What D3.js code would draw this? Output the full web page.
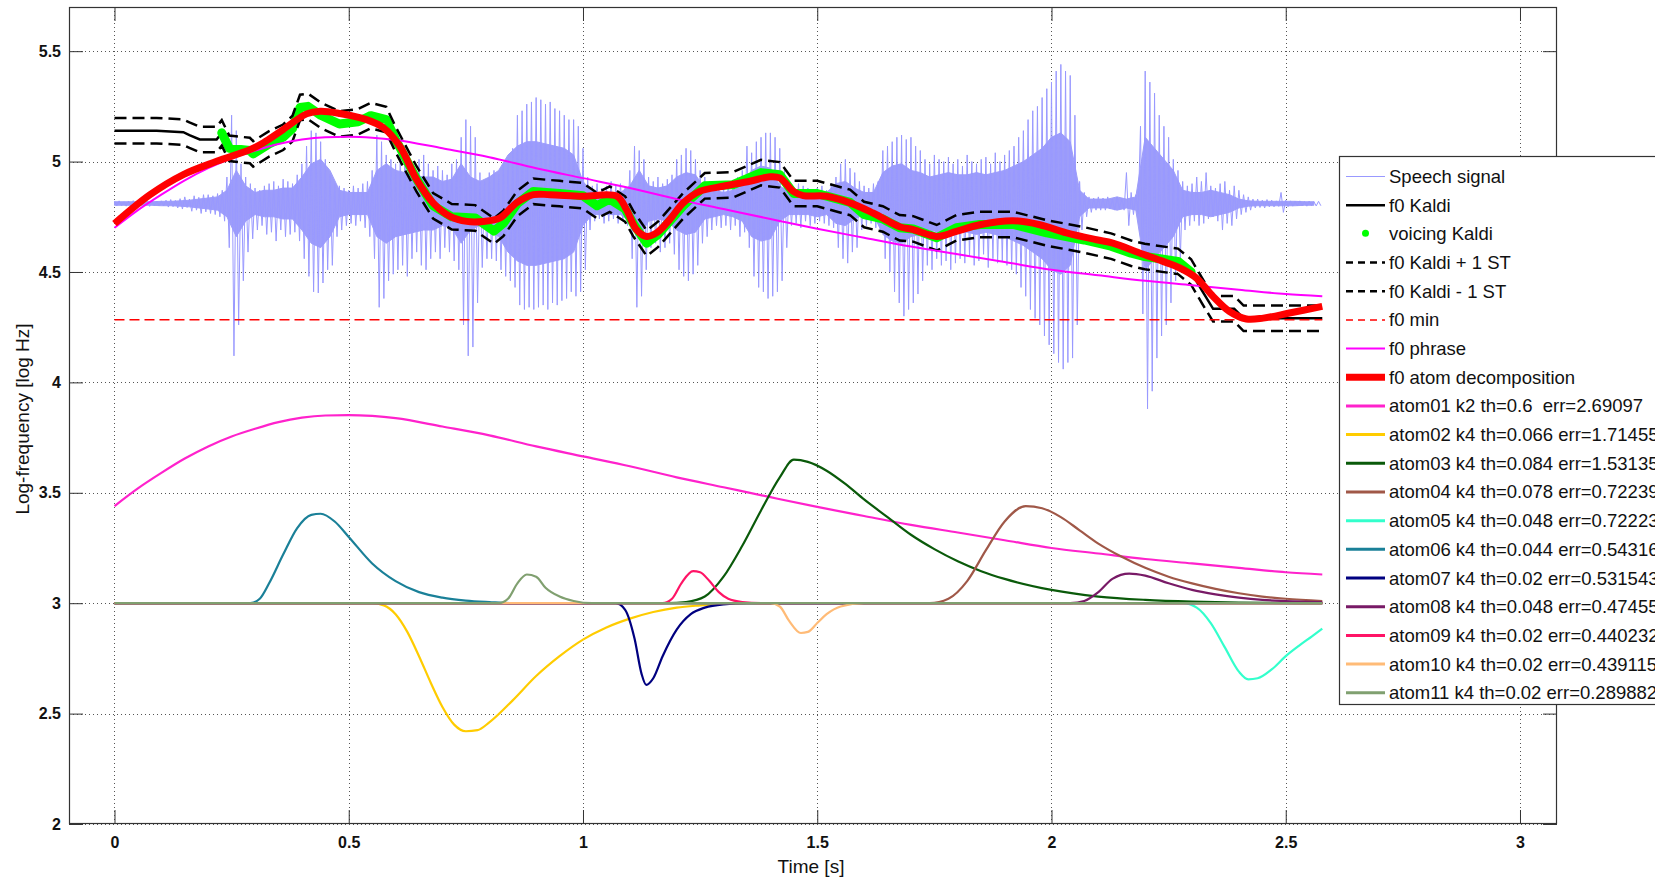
<!DOCTYPE html>
<html><head><meta charset="utf-8">
<script src="https://cdn.jsdelivr.net/npm/d3@7"></script>
<style>
html,body{margin:0;padding:0;background:#fff;}
svg{display:block;font-family:"Liberation Sans",Arial,Helvetica,sans-serif;}
</style></head><body>
<svg id="chart" width="1655" height="877"></svg>
<script>
// ---------- data ----------
// speech waveform: peak excursion above / below its centre line, one frame every 10 ms
const sigCenter = 4.81;
const sigStep = 0.01;
const sigUp = [
 .010,.012,.008,.011,.013,.009,.012,.010,.014,.011,
 .012,.015,.018,.014,.022,.030,.020,.035,.028,.040,
 .040,.035,.045,.060,.120,.400,.330,.180,.120,.090,
 .070,.060,.080,.090,.100,.080,.110,.100,.090,.130,
 .180,.260,.330,.320,.280,.200,.130,.090,.080,.070,
 .060,.080,.070,.090,.100,.150,.310,.280,.220,.200,
 .180,.220,.240,.200,.160,.200,.220,.180,.150,.170,
 .150,.130,.180,.200,.300,.380,.350,.300,.140,.100,
 .140,.150,.130,.180,.200,.250,.400,.420,.450,.460,
 .480,.470,.450,.460,.430,.420,.400,.380,.380,.350,
 .250,.120,.080,.090,.070,.080,.100,.080,.090,.070,
 .150,.260,.240,.200,.120,.100,.120,.090,.110,.130,
 .200,.220,.250,.240,.200,.150,.120,.100,.090,.080,
 .080,.100,.090,.120,.150,.260,.230,.280,.300,.320,
 .320,.300,.250,.150,.080,.070,.090,.080,.070,.060,
 .070,.080,.060,.090,.120,.180,.200,.160,.140,.100,
 .080,.070,.090,.100,.240,.260,.280,.300,.310,.290,
 .300,.260,.240,.200,.180,.220,.200,.190,.210,.180,
 .200,.170,.220,.190,.180,.200,.210,.180,.230,.190,
 .220,.240,.260,.300,.330,.380,.420,.440,.480,.520,
 .550,.600,.630,.600,.580,.400,.100,.050,.030,.025,
 .030,.025,.030,.020,.030,.025,.140,.050,.040,.350,
 .600,.550,.500,.400,.350,.300,.200,.150,.100,.080,
 .090,.120,.100,.140,.080,.070,.090,.100,.060,.080,
 .060,.040,.030,.020,.020,.015,.018,.015,.012,.050,
 .015,.012,.010,.012,.010,.011,.009,.010];
const sigDn = [
 .010,.009,.012,.010,.008,.012,.010,.013,.009,.011,
 .011,.016,.014,.020,.025,.018,.035,.030,.045,.038,
 .045,.050,.060,.080,.200,.690,.550,.350,.220,.160,
 .120,.100,.140,.130,.170,.120,.150,.140,.130,.170,
 .250,.330,.400,.405,.360,.300,.280,.150,.120,.100,
 .090,.100,.080,.110,.150,.250,.470,.430,.350,.320,
 .300,.280,.330,.250,.220,.280,.300,.250,.220,.250,
 .200,.220,.260,.300,.550,.690,.650,.450,.290,.250,
 .250,.260,.300,.330,.350,.380,.460,.480,.470,.480,
 .470,.460,.480,.450,.460,.440,.430,.400,.420,.400,
 .300,.120,.080,.070,.090,.080,.070,.090,.080,.100,
 .250,.470,.420,.300,.200,.180,.220,.200,.180,.230,
 .300,.330,.350,.320,.280,.180,.150,.120,.100,.110,
 .100,.120,.100,.150,.130,.200,.330,.380,.400,.430,
 .420,.400,.350,.200,.100,.090,.110,.080,.100,.090,
 .080,.090,.100,.110,.200,.250,.270,.220,.200,.120,
 .100,.090,.110,.130,.250,.310,.400,.450,.510,.480,
 .450,.410,.350,.280,.300,.250,.280,.260,.300,.270,
 .250,.270,.240,.280,.260,.230,.290,.250,.270,.260,
 .280,.300,.320,.380,.420,.480,.520,.550,.600,.640,
 .680,.720,.750,.720,.700,.550,.120,.060,.040,.030,
 .030,.030,.025,.030,.025,.030,.100,.050,.045,.500,
 .930,.850,.700,.600,.550,.450,.350,.250,.120,.100,
 .080,.100,.090,.070,.060,.080,.120,.090,.100,.070,
 .050,.040,.030,.020,.018,.020,.015,.015,.013,.040,
 .014,.012,.011,.010,.012,.010,.011,.010];
// half-width of the dense body of the waveform, every 20 ms
const coreStep = 0.02;
const sigCore = [
 .008,.008,.008,.008,.008,.010,.010,.012,.015,.020,
 .025,.030,.060,.150,.080,.050,.060,.060,.070,.070,
 .120,.180,.200,.150,.060,.050,.050,.050,.150,.180,
 .150,.140,.130,.120,.120,.100,.110,.180,.120,.100,
 .120,.150,.220,.260,.280,.280,.270,.260,.250,.220,
 .100,.050,.050,.050,.050,.080,.150,.080,.070,.080,
 .120,.140,.130,.070,.060,.050,.060,.080,.150,.170,
 .160,.080,.050,.050,.050,.060,.050,.090,.100,.070,
 .050,.050,.140,.170,.180,.150,.140,.120,.130,.140,
 .130,.130,.140,.130,.140,.150,.170,.190,.220,.250,
 .300,.320,.280,.060,.020,.020,.020,.030,.020,.030,
 .300,.250,.200,.150,.060,.050,.050,.060,.050,.040,
 .020,.012,.010,.010,.010,.010,.010,.008,.008];

// f0 from Kaldi (log Hz)
const kaldiT = [0,0.09,0.147,0.16,0.182,0.218,0.229,0.245,0.289,0.296,
 0.33,0.36,0.38,0.396,0.413,0.44,0.48,0.52,0.547,0.58,
 0.60,0.63,0.645,0.68,0.72,0.77,0.81,0.83,0.86,0.894,
 0.95,1.0,1.03,1.057,1.09,1.107,1.136,1.16,1.214,1.26,
 1.32,1.38,1.42,1.45,1.5,1.57,1.6,1.64,1.676,1.705,
 1.755,1.797,1.847,1.918,1.99,2.045,2.07,2.127,2.17,2.199,
 2.27,2.298,2.32,2.345,2.39,2.41,2.578];
const kaldiF0 = [5.14,5.14,5.133,5.12,5.10,5.10,5.13,5.06,5.05,5.035,
 5.08,5.11,5.15,5.245,5.25,5.21,5.17,5.18,5.208,5.19,
 5.10,4.98,4.92,4.80,4.75,4.745,4.685,4.72,4.81,4.865,
 4.855,4.845,4.80,4.83,4.785,4.72,4.63,4.67,4.80,4.89,
 4.895,4.95,4.94,4.855,4.855,4.815,4.76,4.74,4.70,4.695,
 4.655,4.70,4.715,4.715,4.677,4.655,4.645,4.617,4.585,4.57,
 4.548,4.50,4.42,4.333,4.333,4.29,4.29];
// voiced stretch (s)
const voicedSpan = [0.229, 2.298];
// one semitone in natural-log units
const semitone = Math.log(2) / 12;
const f0Min = 4.284;

// phrase component
const phraseT = [0,0.05,0.1,0.15,0.2,0.25,0.3,0.35,0.4,0.45,0.5,0.55,0.6,0.7,0.8,0.9,
 1.0,1.1,1.2,1.3,1.4,1.5,1.6,1.7,1.8,1.9,2.0,2.1,2.2,2.3,2.4,2.5,2.578];
const phraseV = [4.70,4.78,4.85,4.915,4.97,5.015,5.05,5.08,5.10,5.11,5.112,5.108,5.098,5.06,5.02,4.97,
 4.925,4.88,4.83,4.785,4.74,4.696,4.655,4.615,4.58,4.545,4.51,4.485,4.46,4.44,4.42,4.40,4.39];

// reconstructed contour from the atom decomposition
const recT = [0,0.076,0.147,0.218,0.289,0.318,0.36,0.41,0.439,0.481,
 0.538,0.574,0.609,0.645,0.68,0.716,0.752,0.787,0.823,0.858,
 0.894,0.929,1.0,1.072,1.093,1.114,1.136,1.157,1.185,1.214,
 1.249,1.299,1.356,1.399,1.420,1.449,1.470,1.520,1.570,1.619,
 1.676,1.705,1.755,1.797,1.847,1.918,1.975,2.032,2.096,2.131,
 2.188,2.238,2.274,2.309,2.345,2.380,2.416,2.452,2.508,2.578];
const recV = [4.719,4.850,4.941,5.001,5.054,5.085,5.145,5.216,5.228,5.218,
 5.190,5.153,5.069,4.918,4.813,4.752,4.729,4.729,4.745,4.813,
 4.850,4.850,4.843,4.843,4.782,4.692,4.661,4.677,4.737,4.813,
 4.865,4.888,4.911,4.931,4.926,4.865,4.846,4.843,4.813,4.767,
 4.705,4.692,4.661,4.684,4.714,4.732,4.714,4.677,4.646,4.631,
 4.586,4.548,4.518,4.473,4.389,4.321,4.287,4.291,4.314,4.344];

// individual atoms, drawn around the 3.0 baseline
const atom01T = phraseT;
const atom01V = [3.44,3.52,3.59,3.655,3.71,3.755,3.79,3.82,3.84,3.85,3.852,3.848,3.838,3.80,3.76,3.71,
 3.665,3.62,3.57,3.525,3.48,3.436,3.395,3.355,3.32,3.285,3.25,3.225,3.20,3.18,3.16,3.14,3.13];
const atom02T = [0,0.55,0.575,0.6,0.625,0.65,0.675,0.7,0.725,0.75,0.775,0.8,0.85,0.9,0.95,1.0,1.05,1.1,1.15,1.2,1.25,1.3,1.35,2.578];
const atom02V = [3,3,2.99,2.95,2.87,2.76,2.64,2.53,2.45,2.42,2.425,2.46,2.56,2.67,2.76,2.835,2.89,2.93,2.96,2.98,2.99,2.997,3,3];
const atom03T = [0,1.18,1.22,1.26,1.3,1.34,1.38,1.42,1.45,1.48,1.52,1.56,1.6,1.65,1.7,1.75,1.8,1.85,1.9,2.0,2.1,2.2,2.3,2.4,2.578];
const atom03V = [3,3,3.005,3.03,3.12,3.26,3.42,3.57,3.65,3.64,3.60,3.54,3.47,3.39,3.31,3.245,3.19,3.145,3.11,3.06,3.03,3.015,3.007,3.003,3];
const atom04T = [0,1.74,1.78,1.82,1.86,1.9,1.945,1.98,2.02,2.06,2.1,2.15,2.2,2.25,2.3,2.35,2.4,2.45,2.5,2.578];
const atom04V = [3,3,3.02,3.10,3.24,3.37,3.44,3.43,3.39,3.33,3.27,3.21,3.16,3.12,3.09,3.065,3.045,3.03,3.02,3.01];
const atom05T = [0,2.28,2.31,2.34,2.37,2.40,2.42,2.44,2.47,2.5,2.53,2.556,2.578];
const atom05V = [3,3,2.98,2.91,2.80,2.69,2.655,2.66,2.70,2.76,2.81,2.85,2.885];
const atom06T = [0,0.29,0.31,0.33,0.36,0.39,0.42,0.44,0.47,0.5,0.55,0.6,0.65,0.7,0.75,0.8,0.85,2.578];
const atom06V = [3,3,3.02,3.09,3.22,3.34,3.40,3.405,3.37,3.30,3.18,3.10,3.05,3.025,3.012,3.005,3,3];
const atom07T = [0,1.07,1.09,1.11,1.125,1.135,1.15,1.17,1.2,1.23,1.26,1.3,1.35,2.578];
const atom07V = [3,3,2.97,2.84,2.68,2.63,2.66,2.76,2.88,2.95,2.98,2.995,3,3];
const atom08T = [0,2.04,2.07,2.1,2.13,2.166,2.2,2.25,2.3,2.35,2.4,2.45,2.5,2.578];
const atom08V = [3,3,3.01,3.05,3.11,3.134,3.125,3.09,3.06,3.04,3.025,3.015,3.01,3.005];
const atom09T = [0,1.17,1.19,1.21,1.235,1.25,1.27,1.29,1.31,1.34,1.38,2.578];
const atom09V = [3,3,3.02,3.09,3.145,3.14,3.10,3.05,3.02,3.005,3,3];
const atom10T = [0,1.40,1.42,1.44,1.465,1.48,1.5,1.52,1.55,1.6,2.578];
const atom10V = [3,3,2.985,2.92,2.865,2.87,2.91,2.95,2.985,3,3];
const atom11T = [0,0.82,0.84,0.86,0.88,0.90,0.92,0.95,0.98,1.02,2.578];
const atom11V = [3,3,3.02,3.09,3.13,3.12,3.07,3.03,3.01,3,3];

const atomLabels = [
 "atom01 k2 th=0.6  err=2.69097",
 "atom02 k4 th=0.066 err=1.71455",
 "atom03 k4 th=0.084 err=1.53135",
 "atom04 k4 th=0.078 err=0.72239",
 "atom05 k4 th=0.048 err=0.72223",
 "atom06 k4 th=0.044 err=0.54316",
 "atom07 k4 th=0.02 err=0.531543",
 "atom08 k4 th=0.048 err=0.47455",
 "atom09 k4 th=0.02 err=0.440232",
 "atom10 k4 th=0.02 err=0.439115",
 "atom11 k4 th=0.02 err=0.289882"];
const atomColors = ["#ff22cc","#ffcc00","#0a5a0a","#a05848","#33ffcc","#1a8098",
 "#000080","#781a66","#ff1466","#ffbb77","#80a070"];
const atomSeries = [[atom01T,atom01V],[atom02T,atom02V],[atom03T,atom03V],[atom04T,atom04V],
 [atom05T,atom05V],[atom06T,atom06V],[atom07T,atom07V],[atom08T,atom08V],
 [atom09T,atom09V],[atom10T,atom10V],[atom11T,atom11V]];

const xTicks = [0,0.5,1,1.5,2,2.5,3];
const yTicks = [2,2.5,3,3.5,4,4.5,5,5.5];
const seriesLabels = ["Speech signal","f0 Kaldi","voicing Kaldi","f0 Kaldi + 1 ST","f0 Kaldi - 1 ST",
 "f0 min","f0 phrase","f0 atom decomposition"];

// ---------- layout ----------
const svg = d3.select("#chart");
const L = 69, R = 1557, T = 7, B = 824;
const x = d3.scaleLinear().domain([-0.0971, 3.079]).range([L, R]);
const y = d3.scaleLinear().domain([2, 5.7]).range([B, T]);

svg.append("defs").append("clipPath").attr("id","plotClip")
  .append("rect").attr("x",L).attr("y",T).attr("width",R-L).attr("height",B-T);

// grid
const grid = svg.append("g").attr("stroke","#555").attr("stroke-width",1).attr("stroke-dasharray","1,3");
grid.selectAll(".gx").data(xTicks).join("line")
  .attr("x1",d=>Math.round(x(d))+0.5).attr("x2",d=>Math.round(x(d))+0.5).attr("y1",T).attr("y2",B);
grid.selectAll(".gy").data(yTicks).join("line")
  .attr("y1",d=>Math.round(y(d))+0.5).attr("y2",d=>Math.round(y(d))+0.5).attr("x1",L).attr("x2",R);

const plot = svg.append("g").attr("clip-path","url(#plotClip)");
const zip = (ts, vs) => ts.map((t,i)=>[t, vs[i]]);
const line = d3.line().x(d=>x(d[0])).y(d=>y(d[1]));

// speech waveform: dense body plus an alternating peak trace
const core = sigCore.map((c,i)=>[i*coreStep, c]);
plot.append("path")
  .attr("d", d3.area().x(d=>x(d[0])).y0(d=>y(sigCenter-d[1])).y1(d=>y(sigCenter+d[1]))(core))
  .attr("fill","#9d9dfa").attr("stroke","#9d9dfa").attr("stroke-width",1);
const sigPts = [];
sigUp.forEach((u,i)=>{
  const t = i*sigStep;
  sigPts.push([t, sigCenter+u]);
  sigPts.push([t+sigStep/2, sigCenter-sigDn[i]]);
});
plot.append("path").attr("d", line(sigPts)).attr("fill","none")
  .attr("stroke","#9999ff").attr("stroke-width",1).attr("stroke-linejoin","miter");

// f0 Kaldi
const kaldi = zip(kaldiT, kaldiF0);
plot.append("path").attr("d", line(kaldi)).attr("fill","none").attr("stroke","#000").attr("stroke-width",2.5);
// voicing
const voiced = kaldi.filter(d=>d[0]>=voicedSpan[0] && d[0]<=voicedSpan[1]);
plot.append("path").attr("d", line(voiced)).attr("fill","none").attr("stroke","#00ff00")
  .attr("stroke-width",9).attr("stroke-linecap","round").attr("stroke-linejoin","round");
// +/- 1 semitone
[1,-1].forEach(s=>{
  plot.append("path").attr("d", line(kaldi.map(d=>[d[0], d[1]+s*semitone]))).attr("fill","none")
    .attr("stroke","#000").attr("stroke-width",2.5).attr("stroke-dasharray","12,6");
});
// f0 min
plot.append("line").attr("x1",x(0)).attr("x2",x(kaldiT[kaldiT.length-1]))
  .attr("y1",y(f0Min)).attr("y2",y(f0Min)).attr("stroke","#ff0000").attr("stroke-width",1.5)
  .attr("stroke-dasharray","10,5");
// phrase
const smooth = d3.line().x(d=>x(d[0])).y(d=>y(d[1])).curve(d3.curveMonotoneX);
plot.append("path").attr("d", smooth(zip(phraseT, phraseV))).attr("fill","none")
  .attr("stroke","#ff00ff").attr("stroke-width",2);
// reconstruction
const crl = d3.line().x(d=>x(d[0])).y(d=>y(d[1])).curve(d3.curveCatmullRom.alpha(0.5));
plot.append("path").attr("d", crl(zip(recT, recV))).attr("fill","none")
  .attr("stroke","#ff0000").attr("stroke-width",7).attr("stroke-linejoin","round");
// atoms
atomSeries.forEach((s,i)=>{
  plot.append("path").attr("d", smooth(zip(s[0], s[1]))).attr("fill","none")
    .attr("stroke", atomColors[i]).attr("stroke-width",2.2);
});

// axes box and ticks
const axG = svg.append("g");
const bottom = d3.axisBottom(x).tickValues(xTicks).tickSizeInner(-14).tickSizeOuter(0).tickPadding(13)
  .tickFormat(d3.format("~g"));
axG.append("g").attr("transform",`translate(0,${B})`).call(bottom);
const left = d3.axisLeft(y).tickValues(yTicks).tickSizeInner(-14).tickSizeOuter(0).tickPadding(8)
  .tickFormat(d3.format("~g"));
axG.append("g").attr("transform",`translate(${L},0)`).call(left);
axG.append("g").attr("transform",`translate(0,${T})`)
  .call(d3.axisTop(x).tickValues(xTicks).tickSizeInner(-14).tickSizeOuter(0).tickFormat(""));
axG.append("g").attr("transform",`translate(${R},0)`)
  .call(d3.axisRight(y).tickValues(yTicks).tickSizeInner(-14).tickSizeOuter(0).tickFormat(""));
axG.selectAll(".domain").remove();
axG.selectAll(".tick line").attr("stroke","#333");
axG.selectAll(".tick text").attr("font-size",16).attr("font-weight","bold").attr("fill","#111")
  .attr("font-family","'Liberation Sans',Arial,sans-serif");
svg.append("rect").attr("x",L+0.5).attr("y",T+0.5).attr("width",R-L-1).attr("height",B-T-1)
  .attr("fill","none").attr("stroke","#333").attr("stroke-width",1.2);

svg.append("text").attr("x",811).attr("y",873).attr("text-anchor","middle")
  .attr("font-size",19).attr("fill","#111").text("Time [s]");
svg.append("text").attr("transform","translate(29,419) rotate(-90)").attr("text-anchor","middle")
  .attr("font-size",19).attr("fill","#111").text("Log-frequency [log Hz]");

// legend
const leg = svg.append("g");
leg.append("rect").attr("x",1339.5).attr("y",156.5).attr("width",330).attr("height",548)
  .attr("fill","#fff").attr("stroke","#333").attr("stroke-width",1.2);
const rowY = i => 176.5 + i*28.68;
const sx1 = 1346, sx2 = 1385;
const legendStyles = [
 {c:"#9999ff", w:1}, {c:"#000", w:2.5}, {dot:true, c:"#00ff00"},
 {c:"#000", w:2.5, dash:"7,5"}, {c:"#000", w:2.5, dash:"7,5"},
 {c:"#ff0000", w:1.5, dash:"7,5"}, {c:"#ff00ff", w:2}, {c:"#ff0000", w:7}];
const allLabels = seriesLabels.concat(atomLabels);
allLabels.forEach((lab,i)=>{
  const st = i < legendStyles.length ? legendStyles[i] : {c: atomColors[i-legendStyles.length], w:3};
  const yy = rowY(i);
  if (st.dot) {
    leg.append("circle").attr("cx",(sx1+sx2)/2).attr("cy",yy-0.5).attr("r",3.5).attr("fill",st.c);
  } else {
    leg.append("line").attr("x1",sx1).attr("x2",sx2).attr("y1",yy).attr("y2",yy)
      .attr("stroke",st.c).attr("stroke-width",st.w).attr("stroke-dasharray",st.dash||null);
  }
  leg.append("text").attr("x",1389).attr("y",yy+6.5).attr("font-size",18.5).attr("fill","#111")
    .style("white-space","pre").text(lab);
});
</script></body></html>
